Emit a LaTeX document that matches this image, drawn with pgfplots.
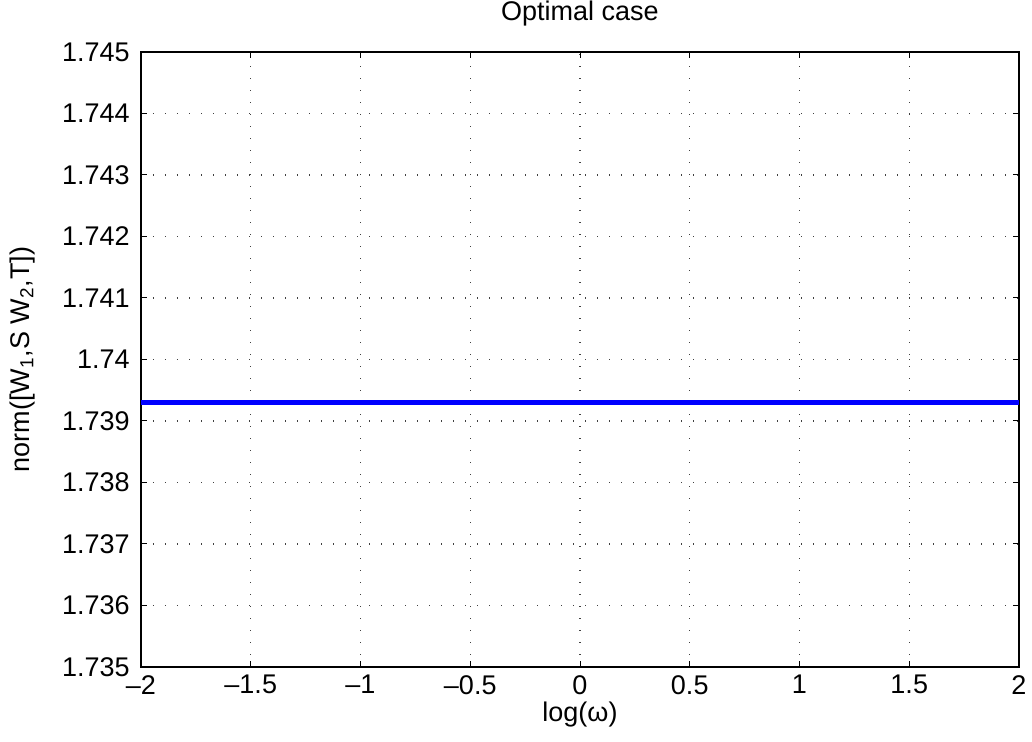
\documentclass[border=0pt]{standalone}
\usepackage{fontspec}
\setmainfont{Liberation Sans}
\usepackage{pgfplots}
\pgfplotsset{compat=1.18}
\begin{document}
\fontsize{13.5}{16}\selectfont
\begin{tikzpicture}
\path[use as bounding box] (-70.5pt,-37.5pt) rectangle (445.5pt,333.5pt);
\begin{axis}[
  anchor=south west, at={(0,0)},
  scale only axis, width=439pt, height=307.5pt,
  xmin=-2, xmax=2, ymin=1.735, ymax=1.745,
  xtick={-2,-1.5,-1,-0.5,0,0.5,1,1.5,2},
  xticklabels={–2,–1.5,–1,–0.5,0,0.5,1,1.5,2},
  ytick={1.735,1.736,1.737,1.738,1.739,1.74,1.741,1.742,1.743,1.744,1.745},
  yticklabels={1.735,1.736,1.737,1.738,1.739,1.74,1.741,1.742,1.743,1.744,1.745},
  tick align=inside, major tick length=3pt,
  tick style={black, line width=0.5pt},
  axis line style={black, line width=0.6pt},
  grid=major,
  major grid style={black!75, line width=0.6pt, dash pattern=on 0.6pt off 5.4pt},
  ticklabel style={font=\fontsize{13.5}{16}\selectfont},
  xticklabel style={yshift=0.5pt},
  yticklabel style={xshift=-1pt},
  title={Optimal case},
  title style={font=\fontsize{13.5}{16}\selectfont, yshift=2pt},
  xlabel={log(ω)},
  xlabel style={font=\fontsize{13.5}{16}\selectfont, yshift=5.5pt},
  ylabel={norm([W\textsubscript{1},S W\textsubscript{2},T])},
  ylabel style={font=\fontsize{13.5}{16}\selectfont, yshift=4.5pt},
]
\addplot[blue, line width=2.5pt] coordinates {(-2,1.7393) (-1,1.7393) (0,1.7393) (1,1.7393) (2,1.7393)};
\end{axis}
\end{tikzpicture}
\end{document}
